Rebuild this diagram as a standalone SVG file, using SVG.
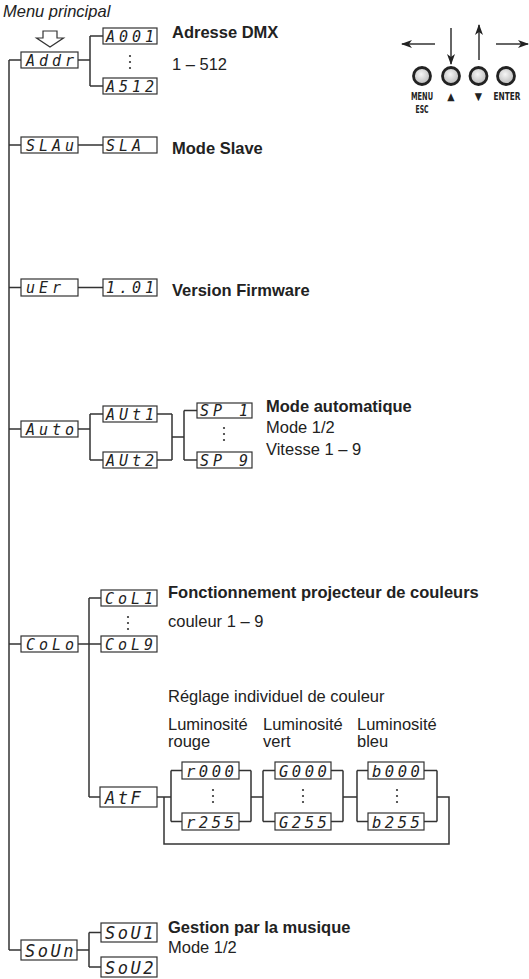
<svg xmlns="http://www.w3.org/2000/svg" width="529" height="979" viewBox="0 0 529 979">
<style>
.bx{fill:#fff;stroke:#333;stroke-width:1.2}
.sg{font-family:"DejaVu Sans Mono",monospace;font-style:italic;fill:#222;font-size:15px;letter-spacing:4px}
.sg2{font-family:"DejaVu Sans Mono",monospace;font-style:italic;fill:#222;font-size:17px;letter-spacing:2.5px}
.sg3{font-family:"DejaVu Sans Mono",monospace;font-style:italic;fill:#222;font-size:15.5px;letter-spacing:3.5px}
.t{font-family:"Liberation Sans",Arial,sans-serif;font-size:16.5px;fill:#222}
.b{font-weight:bold}
.cn{fill:none;stroke:#333;stroke-width:1.5}
.dt{fill:#333}
.btn{fill:url(#bg);stroke:#222;stroke-width:2.8}
.kl{font-family:"DejaVu Sans Condensed","DejaVu Sans",sans-serif;font-weight:bold;font-size:10.5px;fill:#222;text-anchor:middle}
</style>
<defs>
<marker id="ah" markerWidth="11" markerHeight="8" refX="10" refY="4" orient="auto" markerUnits="userSpaceOnUse"><path d="M0,0 L11,4 L0,8 L3,4 Z" fill="#222"/></marker>
<radialGradient id="bg" cx="0.45" cy="0.4" r="0.6"><stop offset="0" stop-color="#f6f6f6"/><stop offset="1" stop-color="#b8b8b8"/></radialGradient>
</defs>

<text class="t" x="3" y="17" font-style="italic">Menu principal</text>
<path d="M43,31 H57 V38 H63.5 L50,47 L36.5,38 H43 Z" fill="#fff" stroke="#333" stroke-width="1.2"/>

<g id="keys">
<line class="cn" x1="435" y1="44" x2="402" y2="44" marker-end="url(#ah)"/>
<line class="cn" x1="451" y1="28" x2="451" y2="64" marker-end="url(#ah)"/>
<line class="cn" x1="479" y1="60" x2="479" y2="25" marker-end="url(#ah)"/>
<line class="cn" x1="496" y1="44" x2="528" y2="44" marker-end="url(#ah)"/>
<circle class="btn" cx="422" cy="76" r="8.5"/>
<circle class="btn" cx="451" cy="76" r="8.5"/>
<circle class="btn" cx="478.5" cy="76" r="8.5"/>
<circle class="btn" cx="506" cy="76" r="8.5"/>
<text class="kl" x="422" y="100" textLength="22" lengthAdjust="spacingAndGlyphs">MENU</text>
<text class="kl" x="422" y="113" textLength="13" lengthAdjust="spacingAndGlyphs">ESC</text>
<text class="kl" x="451" y="100" font-size="10">▲</text>
<text class="kl" x="478.5" y="100" font-size="10">▼</text>
<text class="kl" x="507" y="100" textLength="27" lengthAdjust="spacingAndGlyphs">ENTER</text>
</g>

<g id="connectors">
<path class="cn" d="M9,60 V950"/>
<path class="cn" d="M9,60 H21 M78,60 H90 M90,36 V86 M90,36 H103 M90,86 H103"/>
<path class="cn" d="M9,145 H21 M78,145 H103"/>
<path class="cn" d="M9,287.5 H21 M78,287.5 H103"/>
<path class="cn" d="M9,429 H21 M78,429 H90 M90,414 V460 M90,414 H103 M90,460 H103 M157,414 H172 M157,460 H172 M172,414 V460 M172,437 H184 M184,410.5 V460 M184,410.5 H197 M184,460 H197"/>
<path class="cn" d="M9,644 H21 M78,644 H101 M89,598 V797 M89,598 H101 M89,797 H100"/>
<path class="cn" d="M157,797 H171 M164,797 V844 H449 V797 H437"/>
<path class="cn" d="M171,770.5 V821.5 M171,770.5 H182 M171,821.5 H182 M239,770.5 H251 M239,821.5 H251 M251,770.5 V821.5 M251,797 H263"/>
<path class="cn" d="M263,770.5 V821.5 M263,770.5 H275 M263,821.5 H275 M331,770.5 H343 M331,821.5 H343 M343,770.5 V821.5 M343,797 H357"/>
<path class="cn" d="M357,770.5 V821.5 M357,770.5 H368 M357,821.5 H368 M424,770.5 H437 M424,821.5 H437 M437,770.5 V821.5"/>
<path class="cn" d="M9,950 H21 M77,950 H89 M89,932.5 V967 M89,932.5 H101 M89,967 H101"/>
</g>

<g id="addr"><rect class="bx" x="21" y="52" width="57" height="16"/><text class="sg" x="26" y="65.5">Addr</text></g>
<g id="a001"><rect class="bx" x="103" y="28" width="54" height="16"/><text class="sg" x="106" y="41.5">A001</text></g>
<g id="a512"><rect class="bx" x="103" y="78" width="54" height="16"/><text class="sg" x="106" y="91.5">A512</text></g>
<g class="dt"><circle cx="130" cy="56" r="1.1"/><circle cx="130" cy="62" r="1.1"/><circle cx="130" cy="68" r="1.1"/></g>
<text class="t b" x="172" y="38">Adresse DMX</text>
<text class="t" x="172" y="70">1 – 512</text>

<g id="slav"><rect class="bx" x="21" y="137" width="57" height="16"/><text class="sg" x="26" y="150.5">SLAu</text></g>
<g id="sla"><rect class="bx" x="103" y="137" width="54" height="16"/><text class="sg" x="106" y="150.5">SLA</text></g>
<text class="t b" x="172" y="154">Mode Slave</text>

<g id="ver"><rect class="bx" x="21" y="279" width="57" height="17"/><text class="sg" x="26" y="293">uEr</text></g>
<g id="v101"><rect class="bx" x="103" y="279" width="54" height="17"/><text class="sg" x="106" y="293">1.01</text></g>
<text class="t b" x="172" y="296">Version Firmware</text>

<g id="auto"><rect class="bx" x="21" y="421" width="57" height="16"/><text class="sg" x="26" y="434.5">Auto</text></g>
<g id="aut1"><rect class="bx" x="103" y="406" width="54" height="16"/><text class="sg" x="106" y="419.5">AUt1</text></g>
<g id="aut2"><rect class="bx" x="103" y="452" width="54" height="16"/><text class="sg" x="106" y="465.5">AUt2</text></g>
<g id="sp1"><rect class="bx" x="197" y="403" width="55" height="15"/><text class="sg" x="200" y="416" xml:space="preserve">SP 1</text></g>
<g id="sp9"><rect class="bx" x="197" y="452" width="55" height="16"/><text class="sg" x="200" y="465.5" xml:space="preserve">SP 9</text></g>
<g class="dt"><circle cx="224" cy="428" r="1.1"/><circle cx="224" cy="434" r="1.1"/><circle cx="224" cy="440" r="1.1"/></g>
<text class="t b" x="266" y="412">Mode automatique</text>
<text class="t" x="266" y="433">Mode 1/2</text>
<text class="t" x="266" y="455">Vitesse 1 – 9</text>

<g id="colo"><rect class="bx" x="21" y="636" width="57" height="16"/><text class="sg" x="26" y="649.5">CoLo</text></g>
<g id="col1"><rect class="bx" x="101" y="590" width="56" height="16"/><text class="sg" x="105" y="603.5">CoL1</text></g>
<g id="col9"><rect class="bx" x="101" y="636" width="56" height="16"/><text class="sg" x="105" y="649.5">CoL9</text></g>
<g class="dt"><circle cx="128" cy="617" r="1.1"/><circle cx="128" cy="623" r="1.1"/><circle cx="128" cy="629" r="1.1"/></g>
<text class="t b" x="168" y="598">Fonctionnement projecteur de couleurs</text>
<text class="t" x="168" y="627">couleur 1 – 9</text>
<text class="t" x="168" y="702">Réglage individuel de couleur</text>
<text class="t" x="168" y="730">Luminosité</text><text class="t" x="168" y="747">rouge</text>
<text class="t" x="263" y="730">Luminosité</text><text class="t" x="263" y="747">vert</text>
<text class="t" x="357" y="730">Luminosité</text><text class="t" x="357" y="747">bleu</text>

<g id="atf"><rect class="bx" x="100" y="787" width="57" height="20"/><text class="sg2" x="105" y="803.5">AtF</text></g>
<g id="r000"><rect class="bx" x="182" y="762" width="57" height="17"/><text class="sg3" x="186" y="776.5">r000</text></g>
<g id="r255"><rect class="bx" x="182" y="813" width="57" height="17"/><text class="sg3" x="186" y="827.5">r255</text></g>
<g id="g000"><rect class="bx" x="275" y="762" width="56" height="17"/><text class="sg3" x="279" y="776.5">G000</text></g>
<g id="g255"><rect class="bx" x="275" y="813" width="56" height="17"/><text class="sg3" x="279" y="827.5">G255</text></g>
<g id="b000"><rect class="bx" x="368" y="762" width="56" height="17"/><text class="sg3" x="372" y="776.5">b000</text></g>
<g id="b255"><rect class="bx" x="368" y="813" width="56" height="17"/><text class="sg3" x="372" y="827.5">b255</text></g>
<g class="dt"><circle cx="213" cy="790" r="1.1"/><circle cx="213" cy="796" r="1.1"/><circle cx="213" cy="802" r="1.1"/><circle cx="303" cy="790" r="1.1"/><circle cx="303" cy="796" r="1.1"/><circle cx="303" cy="802" r="1.1"/><circle cx="397" cy="790" r="1.1"/><circle cx="397" cy="796" r="1.1"/><circle cx="397" cy="802" r="1.1"/></g>

<g id="soun"><rect class="bx" x="21" y="940" width="56" height="20"/><text class="sg2" x="25" y="956.5">SoUn</text></g>
<g id="sou1"><rect class="bx" x="101" y="923" width="56" height="19"/><text class="sg2" x="105" y="939">SoU1</text></g>
<g id="sou2"><rect class="bx" x="101" y="957" width="56" height="20"/><text class="sg2" x="105" y="973.5">SoU2</text></g>
<text class="t b" x="168" y="933">Gestion par la musique</text>
<text class="t" x="168" y="953">Mode 1/2</text>
</svg>
